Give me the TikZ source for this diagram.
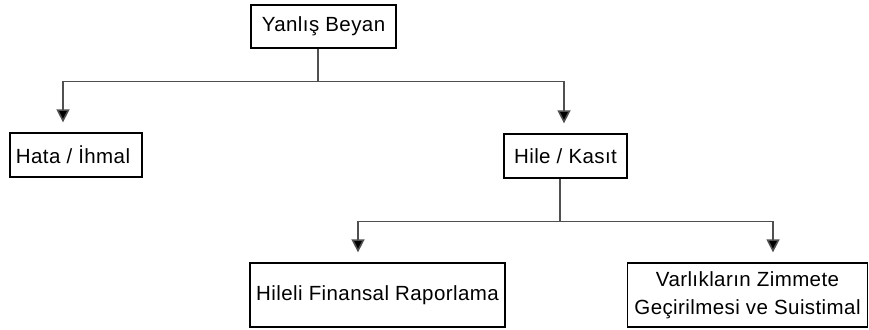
\documentclass[tikz,border=0pt]{standalone}
\usepackage{fontspec}
\setmainfont{Liberation Sans}[LetterSpace=2]
\usetikzlibrary{arrows.meta}
\begin{document}
\begin{tikzpicture}[x=1pt,y=-1pt,
  box/.style={draw=black,line width=1.3pt,inner sep=0pt,font=\fontsize{20.5}{28}\selectfont,align=center},
  ln/.style={draw={rgb,255:red,80;green,80;blue,80},line width=1.6pt},
  arr/.style={ln,-{Triangle[width=13pt,length=13pt,fill=black]},shorten >=10pt}]
\useasboundingbox (0,0) rectangle (869,329);
\node[box,minimum width=145pt,minimum height=43pt] (yb) at (323.5,26.5) {Yanlış Beyan};
\node[box,minimum width=132pt,minimum height=44pt] (hata) at (76,155) {Hata / İhmal\hspace{6pt}};
\node[box,minimum width=123pt,minimum height=44pt] (hile) at (565.5,156) {Hile / Kasıt};
\node[box,minimum width=255pt,minimum height=64pt] (hfr) at (377.5,295) {Hileli Finansal Raporlama};
\node[box,minimum width=240pt,minimum height=64pt] (vz) at (747.5,295) {Varlıkların Zimmete\\Geçirilmesi ve Suistimal};
\draw[ln] ([xshift=-5.5pt]yb.south) -- ++(0,33) coordinate (b1);
\draw[arr] (b1) -| ([xshift=-13pt]hata.north);
\draw[arr] (b1) -| ([xshift=-1.5pt]hile.north);
\draw[ln] ([xshift=-5.5pt]hile.south) -- ++(0,43) coordinate (b2);
\draw[arr] (b2) -| ([xshift=-19.5pt]hfr.north);
\draw[arr] (b2) -| ([xshift=25.5pt]vz.north);
\end{tikzpicture}
\end{document}
